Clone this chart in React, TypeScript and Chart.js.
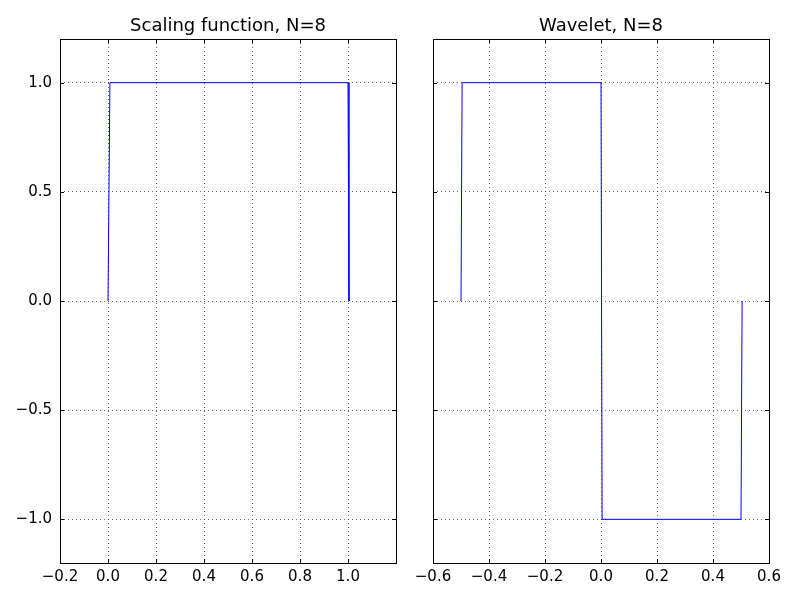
import React, { useRef, useEffect } from 'react';
import { Chart, registerables } from 'chart.js';

Chart.register(...registerables);

const scalingX = [0, 0.008, 1.0, 1.004];
const scalingY = [0, 1, 1, 0];
const waveletX = [-0.5, -0.496, 0, 0.004, 0.5, 0.504];
const waveletY = [0, 1, 1, -1, -1, 0];
const yTicks = [-1, -0.5, 0, 0.5, 1];
const scalingXTicks = [-0.2, 0, 0.2, 0.4, 0.6, 0.8, 1.0];
const waveletXTicks = [-0.6, -0.4, -0.2, 0, 0.2, 0.4, 0.6];

const fmt = (v: number) => v.toFixed(1).replace('-', '\u2212');
const font = { family: 'DejaVu Sans', size: 15 };

function makeChart(canvas: HTMLCanvasElement, cfg: any) {
  const frame = {
    id: 'frame',
    afterDraw(chart: any) {
      const { ctx, chartArea: a } = chart;
      ctx.save();
      ctx.strokeStyle = '#000';
      ctx.lineWidth = 1;
      ctx.strokeRect(a.left + 0.5, a.top + 0.5, a.right - a.left, a.bottom - a.top);
      // inward tick marks
      const xs = chart.scales.x, ys = chart.scales.y;
      ctx.beginPath();
      cfg.xTicks.forEach((t: number) => {
        const x = Math.round(xs.getPixelForValue(t)) + 0.5;
        ctx.moveTo(x, a.bottom); ctx.lineTo(x, a.bottom - 4);
        ctx.moveTo(x, a.top); ctx.lineTo(x, a.top + 4);
      });
      yTicks.forEach((t) => {
        const y = Math.round(ys.getPixelForValue(t)) + 0.5;
        ctx.moveTo(a.left, y); ctx.lineTo(a.left + 4, y);
        ctx.moveTo(a.right, y); ctx.lineTo(a.right - 4, y);
      });
      ctx.stroke();
      ctx.fillStyle = '#000';
      ctx.font = '18px DejaVu Sans';
      ctx.textAlign = 'center';
      ctx.textBaseline = 'bottom';
      ctx.fillText(cfg.title, (a.left + a.right) / 2, a.top - 4);
      ctx.restore();
    },
  };
  const grid = { color: '#000', lineWidth: 0.6, drawTicks: false };
  return new Chart(canvas, {
    type: 'scatter',
    plugins: [frame],
    data: {
      datasets: [{
        data: cfg.xs.map((x: number, i: number) => ({ x, y: cfg.ys[i] })),
        showLine: true,
        borderColor: '#0000ff',
        borderWidth: 1,
        pointRadius: 0,
      }],
    },
    options: {
      animation: false,
      responsive: false,
      layout: { padding: cfg.padding },
      plugins: { legend: { display: false }, tooltip: { enabled: false } },
      scales: {
        x: {
          min: cfg.xMin, max: cfg.xMax,
          afterBuildTicks: (s: any) => { s.ticks = cfg.xTicks.map((v: number) => ({ value: v })); },
          afterFit: (s: any) => { s.height = 37; },
          ticks: { color: '#000', font, padding: 5, maxRotation: 0, callback: (v: any) => fmt(Number(v)) },
          grid: { ...grid } as any,
          border: { display: false, dash: [1, 3] },
        },
        y: {
          min: -1.2, max: 1.2,
          afterBuildTicks: (s: any) => { s.ticks = yTicks.map((v) => ({ value: v })); },
          afterFit: (s: any) => { s.width = cfg.yWidth; },
          ticks: { display: cfg.showY, color: '#000', font, padding: 8, callback: (v: any) => fmt(Number(v)) },
          grid: { ...grid } as any,
          border: { display: false, dash: [1, 3] },
        },
      },
    },
  });
}

export default function App() {
  const leftRef = useRef<HTMLCanvasElement>(null);
  const rightRef = useRef<HTMLCanvasElement>(null);

  useEffect(() => {
    const a = makeChart(leftRef.current!, {
      xs: scalingX, ys: scalingY, xMin: -0.2, xMax: 1.2, xTicks: scalingXTicks,
      title: 'Scaling function, N=8', showY: true, yWidth: 60,
      padding: { left: 0, right: 404, top: 39, bottom: 0 },
    });
    const b = makeChart(rightRef.current!, {
      xs: waveletX, ys: waveletY, xMin: -0.6, xMax: 0.6, xTicks: waveletXTicks,
      title: 'Wavelet, N=8', showY: false, yWidth: 0,
      padding: { left: 433, right: 31, top: 39, bottom: 0 },
    });
    return () => { a.destroy(); b.destroy(); };
  }, []);

  return (
    <div style={{ position: 'relative', width: 800, height: 600, margin: -8, background: '#fff' }}>
      <canvas ref={leftRef} width={800} height={600} style={{ position: 'absolute', left: 0, top: 0 }} />
      <canvas ref={rightRef} width={800} height={600} style={{ position: 'absolute', left: 0, top: 0 }} />
    </div>
  );
}
